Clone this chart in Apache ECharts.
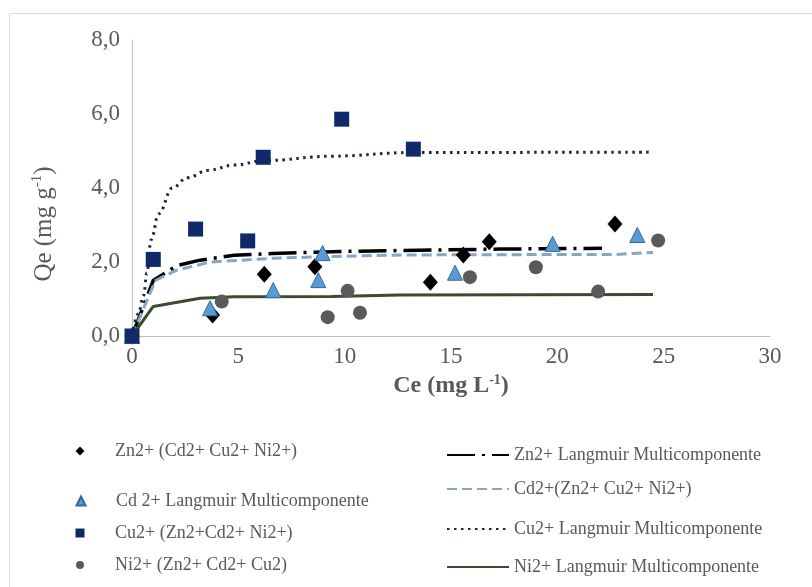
<!DOCTYPE html>
<html>
<head>
<meta charset="utf-8">
<script src="https://cdn.jsdelivr.net/npm/echarts@6/dist/echarts.min.js"></script>
<style>html,body{margin:0;padding:0;background:#fff}#c{width:812px;height:587px}</style>
</head>
<body>
<div id="c"></div>
<script>
// ---- data (Ce, Qe) ----
const xTicks = [0, 5, 10, 15, 20, 25, 30];
const yTicks = [0, 2, 4, 6, 8];

const znPoints = [[0,0],[3.79,0.57],[6.22,1.67],[8.6,1.87],[14.03,1.45],[15.58,2.19],[16.8,2.55],[22.71,3.03]];
const cdPoints = [[0,0],[3.67,0.75],[6.64,1.24],[8.76,1.51],[8.96,2.24],[15.19,1.71],[19.78,2.49],[23.76,2.73]];
const cuPoints = [[0,0],[1.0,2.07],[2.99,2.89],[5.44,2.57],[6.17,4.83],[9.86,5.86],[13.23,5.05]];
const niPoints = [[0,0],[4.22,0.93],[9.2,0.51],[10.72,0.63],[10.14,1.22],[15.89,1.59],[18.99,1.86],[21.92,1.2],[24.74,2.58]];

const znModel = [[0,0],[1.0,1.5],[2.1,1.9],[3.2,2.05],[4.8,2.18],[6.6,2.23],[9.4,2.28],[12.6,2.31],[17.3,2.35],[22.1,2.37]];
const cdModel = [[0,0],[1.1,1.5],[2.1,1.78],[3.7,2.0],[6.6,2.1],[9.4,2.15],[12.6,2.19],[18.8,2.2],[22.6,2.2],[24.5,2.26]];
const cuModel = [[0,0],[0.3,0.6],[0.55,1.1],[0.7,1.7],[0.9,2.6],[1.25,3.3],[1.9,4.0],[2.6,4.28],[3.6,4.48],[4.8,4.62],[6.2,4.74],[9.4,4.86],[13.2,4.96],[24.5,4.97]];
const niModel = [[0,0],[1.0,0.8],[3.2,1.02],[4.8,1.06],[9.4,1.07],[12.6,1.11],[24.5,1.12]];

const names = {
  zn: 'Zn2+ (Cd2+ Cu2+ Ni2+)',
  cd: 'Cd 2+ Langmuir Multicomponente',
  cu: 'Cu2+ (Zn2+Cd2+ Ni2+)',
  ni: 'Ni2+ (Zn2+ Cd2+ Cu2)',
  znM: 'Zn2+ Langmuir Multicomponente',
  cdM: 'Cd2+(Zn2+ Cu2+ Ni2+)',
  cuM: 'Cu2+ Langmuir Multicomponente',
  niM: 'Ni2+ Langmuir Multicomponente'
};

const FONT = '"Liberation Serif", "Times New Roman", serif';
const GRAY = '#595959';

function leftLegend(name, top, size) {
  return { data: [name], left: 80 - size / 2, top: top, padding: 0, itemWidth: size, itemHeight: size,
    selectedMode: false, textStyle: { fontFamily: FONT, fontSize: 18, color: GRAY, padding: [0, 0, 0, 30 - size / 2] } };
}
function rightLegend(name, top) {
  return { data: [name], left: 446, top: top, padding: 0, itemWidth: 62, itemHeight: 14,
    selectedMode: false, itemStyle: { opacity: 0 },
    textStyle: { fontFamily: FONT, fontSize: 18, color: GRAY } };
}

const chart = echarts.init(document.getElementById('c'), null, { renderer: 'canvas' });
chart.setOption({
  animation: false,
  backgroundColor: '#fff',
  grid: { left: 132, right: 42, top: 40, bottom: 251, containLabel: false },
  xAxis: {
    type: 'value', min: xTicks[0], max: xTicks[xTicks.length - 1], interval: 5,
    axisLine: { show: true, lineStyle: { color: '#bfbfbf', width: 1 } },
    axisTick: { show: false }, splitLine: { show: false },
    axisLabel: { fontFamily: FONT, fontSize: 23, color: GRAY, margin: 9 },
    name: '{b|Ce (mg L}{s|-1}{b|)}', nameLocation: 'middle', nameGap: 36,
    nameTextStyle: { rich: {
      b: { fontFamily: FONT, fontSize: 24, fontWeight: 'bold', color: GRAY },
      s: { fontFamily: FONT, fontSize: 14, fontWeight: 'bold', color: GRAY, padding: [0, 0, 12, 0] }
    } }
  },
  yAxis: {
    type: 'value', min: yTicks[0], max: yTicks[yTicks.length - 1], interval: 2,
    axisLine: { show: true, lineStyle: { color: '#bfbfbf', width: 1 } },
    axisTick: { show: false }, splitLine: { show: false },
    axisLabel: { fontFamily: FONT, fontSize: 23, color: GRAY, margin: 12,
      formatter: v => v.toFixed(1).replace('.', ',') }
  },
  graphic: [
    { type: 'rect', shape: { x: 9.5, y: 13.5, width: 830, height: 620 }, style: { fill: 'none', stroke: '#d9d9d9', lineWidth: 1 }, silent: true },
    { type: 'text', x: 44, y: 224, rotation: Math.PI / 2,
      style: { text: '{n|Qe (mg g}{s|-1}{n|)}', align: 'center', verticalAlign: 'middle',
        rich: {
          n: { fontFamily: FONT, fontSize: 25, fill: GRAY },
          s: { fontFamily: FONT, fontSize: 15, fill: GRAY, padding: [0, 0, 13, 0] }
        } } }
  ],
  legend: [
    leftLegend(names.zn, 442, 9),
    leftLegend(names.cd, 492, 9),
    leftLegend(names.cu, 524, 9),
    leftLegend(names.ni, 556, 8),
    rightLegend(names.znM, 446),
    rightLegend(names.cdM, 480),
    rightLegend(names.cuM, 520),
    rightLegend(names.niM, 558)
  ],
  series: [
    { name: names.znM, type: 'line', data: znModel, symbol: 'none', z: 2,
      lineStyle: { color: '#000000', width: 3.5, type: [28, 7, 3, 7] }, itemStyle: { color: '#000' } },
    { name: names.cdM, type: 'line', data: cdModel, symbol: 'none', z: 2,
      lineStyle: { color: '#86a6c4', width: 3, type: [10, 5] }, itemStyle: { color: '#86a6c4' } },
    { name: names.cuM, type: 'line', data: cuModel, symbol: 'none', z: 2, smooth: 0.4, smoothMonotone: 'x',
      lineStyle: { color: '#1b2540', width: 3, type: [2.5, 4.5] }, itemStyle: { color: '#1b2540' } },
    { name: names.niM, type: 'line', data: niModel, symbol: 'none', z: 2,
      lineStyle: { color: '#3d4a30', width: 3 }, itemStyle: { color: '#3d4a30' } },
    { name: names.ni, type: 'scatter', data: niPoints, symbol: 'circle', symbolSize: 14, z: 3,
      itemStyle: { color: '#5a5a5a', opacity: 1 } },
    { name: names.zn, type: 'scatter', data: znPoints, symbol: 'diamond', symbolSize: [15, 17], z: 4,
      itemStyle: { color: '#000000', opacity: 1 } },
    { name: names.cd, type: 'scatter', data: cdPoints, symbol: 'triangle', symbolSize: 15, z: 5,
      itemStyle: { color: '#5b9bd5', borderColor: '#2f6a9c', borderWidth: 1, opacity: 1 } },
    { name: names.cu, type: 'scatter', data: cuPoints, symbol: 'rect', symbolSize: 15, z: 6,
      itemStyle: { color: '#10296a', opacity: 1 } }
  ]
});
</script>
</body>
</html>
